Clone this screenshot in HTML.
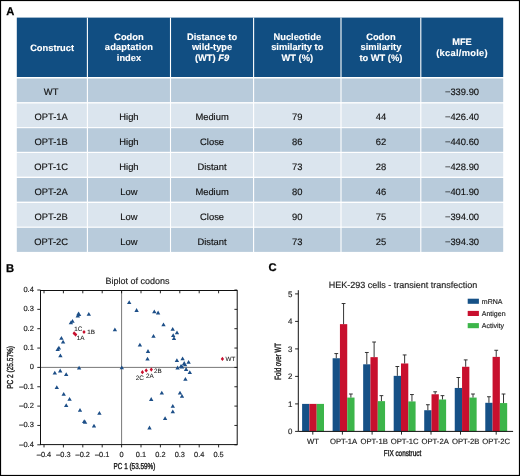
<!DOCTYPE html>
<html><head><meta charset="utf-8"><style>
html,body{margin:0;padding:0;background:#fff;width:520px;height:476px;overflow:hidden}
svg text{font-family:"Liberation Sans", sans-serif;text-rendering:geometricPrecision}
.c{fill:#1c1c1c;stroke:#1c1c1c;stroke-width:0.16}
.c2{stroke-width:0.4}
</style></head><body>
<svg width="520" height="476" viewBox="0 0 520 476" style="display:block;will-change:transform">
<rect x="0" y="0" width="520" height="476" fill="#fff"/>
<text x="6.3" y="14.6" font-size="11.2" font-weight="bold" fill="#000" stroke="#000" stroke-width="0.25">A</text>
<rect x="16.8" y="17.6" width="486.4" height="59.4" fill="#114e82"/>
<rect x="16.8" y="78.5" width="486.4" height="23.6" fill="#b8cbdb"/>
<rect x="16.8" y="103.5" width="486.4" height="23.6" fill="#dbe5ee"/>
<rect x="16.8" y="128.2" width="486.4" height="23.6" fill="#b8cbdb"/>
<rect x="16.8" y="153.0" width="486.4" height="23.6" fill="#dbe5ee"/>
<rect x="16.8" y="178.0" width="486.4" height="23.6" fill="#b8cbdb"/>
<rect x="16.8" y="203.0" width="486.4" height="23.6" fill="#dbe5ee"/>
<rect x="16.8" y="227.8" width="486.4" height="24.1" fill="#b8cbdb"/>
<rect x="86.85" y="17.6" width="1.1" height="234.4" fill="#fff"/>
<rect x="169.95" y="17.6" width="1.1" height="234.4" fill="#fff"/>
<rect x="253.05" y="17.6" width="1.1" height="234.4" fill="#fff"/>
<rect x="340.45" y="17.6" width="1.1" height="234.4" fill="#fff"/>
<rect x="420.25" y="17.6" width="1.1" height="234.4" fill="#fff"/>
<text x="52.10" y="50.70" font-size="9.3" font-weight="bold" fill="#fff" stroke="#fff" stroke-width="0.12" text-anchor="middle" >Construct</text>
<text x="128.95" y="39.50" font-size="9.3" font-weight="bold" fill="#fff" stroke="#fff" stroke-width="0.12" text-anchor="middle" >Codon</text>
<text x="128.95" y="50.40" font-size="9.3" font-weight="bold" fill="#fff" stroke="#fff" stroke-width="0.12" text-anchor="middle" letter-spacing="0.12">adaptation</text>
<text x="128.95" y="61.30" font-size="9.3" font-weight="bold" fill="#fff" stroke="#fff" stroke-width="0.12" text-anchor="middle" >index</text>
<text x="212.05" y="39.50" font-size="9.3" font-weight="bold" fill="#fff" stroke="#fff" stroke-width="0.12" text-anchor="middle" >Distance to</text>
<text x="212.05" y="50.40" font-size="9.3" font-weight="bold" fill="#fff" stroke="#fff" stroke-width="0.12" text-anchor="middle" >wild-type</text>
<text x="212.05" y="61.30" font-size="9.3" font-weight="bold" fill="#fff" stroke="#fff" stroke-width="0.12" text-anchor="middle" >(WT) <tspan font-style="italic">F9</tspan></text>
<text x="297.30" y="39.50" font-size="9.3" font-weight="bold" fill="#fff" stroke="#fff" stroke-width="0.12" text-anchor="middle" >Nucleotide</text>
<text x="297.30" y="50.40" font-size="9.3" font-weight="bold" fill="#fff" stroke="#fff" stroke-width="0.12" text-anchor="middle" >similarity to</text>
<text x="297.30" y="61.30" font-size="9.3" font-weight="bold" fill="#fff" stroke="#fff" stroke-width="0.12" text-anchor="middle" >WT (%)</text>
<text x="380.90" y="39.50" font-size="9.3" font-weight="bold" fill="#fff" stroke="#fff" stroke-width="0.12" text-anchor="middle" >Codon</text>
<text x="380.90" y="50.40" font-size="9.3" font-weight="bold" fill="#fff" stroke="#fff" stroke-width="0.12" text-anchor="middle" >similarity</text>
<text x="380.90" y="61.30" font-size="9.3" font-weight="bold" fill="#fff" stroke="#fff" stroke-width="0.12" text-anchor="middle" >to WT (%)</text>
<text x="462.00" y="44.90" font-size="9.3" font-weight="bold" fill="#fff" stroke="#fff" stroke-width="0.12" text-anchor="middle" >MFE</text>
<text x="462.00" y="55.80" font-size="9.3" font-weight="bold" fill="#fff" stroke="#fff" stroke-width="0.12" text-anchor="middle" letter-spacing="0.28">(kcal/mole)</text>
<text x="51.10" y="95.20" font-size="9.4" fill="#111" stroke="#111" stroke-width="0.15" text-anchor="middle" >WT</text>
<text x="462.00" y="95.20" font-size="9.4" fill="#111" stroke="#111" stroke-width="0.15" text-anchor="middle" >−339.90</text>
<text x="51.10" y="120.20" font-size="9.4" fill="#111" stroke="#111" stroke-width="0.15" text-anchor="middle" >OPT-1A</text>
<text x="128.95" y="120.20" font-size="9.4" fill="#111" stroke="#111" stroke-width="0.15" text-anchor="middle" >High</text>
<text x="212.05" y="120.20" font-size="9.4" fill="#111" stroke="#111" stroke-width="0.15" text-anchor="middle" >Medium</text>
<text x="297.30" y="120.20" font-size="9.4" fill="#111" stroke="#111" stroke-width="0.15" text-anchor="middle" >79</text>
<text x="380.90" y="120.20" font-size="9.4" fill="#111" stroke="#111" stroke-width="0.15" text-anchor="middle" >44</text>
<text x="462.00" y="120.20" font-size="9.4" fill="#111" stroke="#111" stroke-width="0.15" text-anchor="middle" >−426.40</text>
<text x="51.10" y="144.90" font-size="9.4" fill="#111" stroke="#111" stroke-width="0.15" text-anchor="middle" >OPT-1B</text>
<text x="128.95" y="144.90" font-size="9.4" fill="#111" stroke="#111" stroke-width="0.15" text-anchor="middle" >High</text>
<text x="212.05" y="144.90" font-size="9.4" fill="#111" stroke="#111" stroke-width="0.15" text-anchor="middle" >Close</text>
<text x="297.30" y="144.90" font-size="9.4" fill="#111" stroke="#111" stroke-width="0.15" text-anchor="middle" >86</text>
<text x="380.90" y="144.90" font-size="9.4" fill="#111" stroke="#111" stroke-width="0.15" text-anchor="middle" >62</text>
<text x="462.00" y="144.90" font-size="9.4" fill="#111" stroke="#111" stroke-width="0.15" text-anchor="middle" >−440.60</text>
<text x="51.10" y="169.70" font-size="9.4" fill="#111" stroke="#111" stroke-width="0.15" text-anchor="middle" >OPT-1C</text>
<text x="128.95" y="169.70" font-size="9.4" fill="#111" stroke="#111" stroke-width="0.15" text-anchor="middle" >High</text>
<text x="212.05" y="169.70" font-size="9.4" fill="#111" stroke="#111" stroke-width="0.15" text-anchor="middle" >Distant</text>
<text x="297.30" y="169.70" font-size="9.4" fill="#111" stroke="#111" stroke-width="0.15" text-anchor="middle" >73</text>
<text x="380.90" y="169.70" font-size="9.4" fill="#111" stroke="#111" stroke-width="0.15" text-anchor="middle" >28</text>
<text x="462.00" y="169.70" font-size="9.4" fill="#111" stroke="#111" stroke-width="0.15" text-anchor="middle" >−428.90</text>
<text x="51.10" y="194.70" font-size="9.4" fill="#111" stroke="#111" stroke-width="0.15" text-anchor="middle" >OPT-2A</text>
<text x="128.95" y="194.70" font-size="9.4" fill="#111" stroke="#111" stroke-width="0.15" text-anchor="middle" >Low</text>
<text x="212.05" y="194.70" font-size="9.4" fill="#111" stroke="#111" stroke-width="0.15" text-anchor="middle" >Medium</text>
<text x="297.30" y="194.70" font-size="9.4" fill="#111" stroke="#111" stroke-width="0.15" text-anchor="middle" >80</text>
<text x="380.90" y="194.70" font-size="9.4" fill="#111" stroke="#111" stroke-width="0.15" text-anchor="middle" >46</text>
<text x="462.00" y="194.70" font-size="9.4" fill="#111" stroke="#111" stroke-width="0.15" text-anchor="middle" >−401.90</text>
<text x="51.10" y="219.70" font-size="9.4" fill="#111" stroke="#111" stroke-width="0.15" text-anchor="middle" >OPT-2B</text>
<text x="128.95" y="219.70" font-size="9.4" fill="#111" stroke="#111" stroke-width="0.15" text-anchor="middle" >Low</text>
<text x="212.05" y="219.70" font-size="9.4" fill="#111" stroke="#111" stroke-width="0.15" text-anchor="middle" >Close</text>
<text x="297.30" y="219.70" font-size="9.4" fill="#111" stroke="#111" stroke-width="0.15" text-anchor="middle" >90</text>
<text x="380.90" y="219.70" font-size="9.4" fill="#111" stroke="#111" stroke-width="0.15" text-anchor="middle" >75</text>
<text x="462.00" y="219.70" font-size="9.4" fill="#111" stroke="#111" stroke-width="0.15" text-anchor="middle" >−394.00</text>
<text x="51.10" y="244.50" font-size="9.4" fill="#111" stroke="#111" stroke-width="0.15" text-anchor="middle" >OPT-2C</text>
<text x="128.95" y="244.50" font-size="9.4" fill="#111" stroke="#111" stroke-width="0.15" text-anchor="middle" >Low</text>
<text x="212.05" y="244.50" font-size="9.4" fill="#111" stroke="#111" stroke-width="0.15" text-anchor="middle" >Distant</text>
<text x="297.30" y="244.50" font-size="9.4" fill="#111" stroke="#111" stroke-width="0.15" text-anchor="middle" >73</text>
<text x="380.90" y="244.50" font-size="9.4" fill="#111" stroke="#111" stroke-width="0.15" text-anchor="middle" >25</text>
<text x="462.00" y="244.50" font-size="9.4" fill="#111" stroke="#111" stroke-width="0.15" text-anchor="middle" >−394.30</text>
<text x="6.0" y="271.5" font-size="11.2" font-weight="bold" fill="#000" stroke="#000" stroke-width="0.25">B</text>
<text x="105.4" y="284.1" font-size="9" class="c">Biplot of codons</text>
<line x1="40.5" y1="367.4" x2="237.2" y2="367.4" stroke="#555" stroke-width="0.8"/>
<line x1="121.6" y1="290.5" x2="121.6" y2="444.6" stroke="#555" stroke-width="0.8"/>
<rect x="40.5" y="290.5" width="196.7" height="154.10000000000002" fill="none" stroke="#111" stroke-width="1"/>
<path d="M44.00,290.5v2.8 M44.00,444.6v2.8 M63.40,290.5v2.8 M63.40,444.6v2.8 M82.80,290.5v2.8 M82.80,444.6v2.8 M102.20,290.5v2.8 M102.20,444.6v2.8 M121.60,290.5v2.8 M121.60,444.6v2.8 M141.00,290.5v2.8 M141.00,444.6v2.8 M160.40,290.5v2.8 M160.40,444.6v2.8 M179.80,290.5v2.8 M179.80,444.6v2.8 M199.20,290.5v2.8 M199.20,444.6v2.8 M218.60,290.5v2.8 M218.60,444.6v2.8 M40.5,444.80h-3.2 M237.2,444.80h-2.8 M40.5,425.45h-3.2 M237.2,425.45h-2.8 M40.5,406.10h-3.2 M237.2,406.10h-2.8 M40.5,386.75h-3.2 M237.2,386.75h-2.8 M40.5,367.40h-3.2 M237.2,367.40h-2.8 M40.5,348.05h-3.2 M237.2,348.05h-2.8 M40.5,328.70h-3.2 M237.2,328.70h-2.8 M40.5,309.35h-3.2 M237.2,309.35h-2.8 M40.5,290.00h-3.2 M237.2,290.00h-2.8" stroke="#111" stroke-width="0.9" fill="none"/>
<text x="33.9" y="446.60" font-size="7.5" class="c" text-anchor="end">–0.4</text>
<text x="33.9" y="427.25" font-size="7.5" class="c" text-anchor="end">–0.3</text>
<text x="33.9" y="407.90" font-size="7.5" class="c" text-anchor="end">–0.2</text>
<text x="33.9" y="388.55" font-size="7.5" class="c" text-anchor="end">–0.1</text>
<text x="33.9" y="369.20" font-size="7.5" class="c" text-anchor="end">0</text>
<text x="33.9" y="349.85" font-size="7.5" class="c" text-anchor="end">0.1</text>
<text x="33.9" y="330.50" font-size="7.5" class="c" text-anchor="end">0.2</text>
<text x="33.9" y="311.15" font-size="7.5" class="c" text-anchor="end">0.3</text>
<text x="33.9" y="291.80" font-size="7.5" class="c" text-anchor="end">0.4</text>
<text x="44.00" y="456.6" font-size="7.4" class="c" text-anchor="middle">–0.4</text>
<text x="63.40" y="456.6" font-size="7.4" class="c" text-anchor="middle">–0.3</text>
<text x="82.80" y="456.6" font-size="7.4" class="c" text-anchor="middle">–0.2</text>
<text x="102.20" y="456.6" font-size="7.4" class="c" text-anchor="middle">–0.1</text>
<text x="121.60" y="456.6" font-size="7.4" class="c" text-anchor="middle">0</text>
<text x="141.00" y="456.6" font-size="7.4" class="c" text-anchor="middle">0.1</text>
<text x="160.40" y="456.6" font-size="7.4" class="c" text-anchor="middle">0.2</text>
<text x="179.80" y="456.6" font-size="7.4" class="c" text-anchor="middle">0.3</text>
<text x="199.20" y="456.6" font-size="7.4" class="c" text-anchor="middle">0.4</text>
<text x="218.60" y="456.6" font-size="7.4" class="c" text-anchor="middle">0.5</text>
<text transform="translate(134.45,468.7) scale(0.743,1)" font-size="8.6" class="c c2" text-anchor="middle">PC 1 (53.59%)</text>
<text transform="translate(13.4,367.4) rotate(-90) scale(0.759,1)" font-size="8.6" class="c c2" text-anchor="middle">PC 2 (25.57%)</text>
<path d="M77.8,313.60l2.2,3.8h-4.4z M79.1,312.30l2.2,3.8h-4.4z M78.5,311.40l2.2,3.8h-4.4z M88.8,312.00l2.2,3.8h-4.4z M70.9,320.50l2.2,3.8h-4.4z M72.5,319.00l2.2,3.8h-4.4z M61.4,336.00l2.2,3.8h-4.4z M63.1,339.80l2.2,3.8h-4.4z M58.9,345.70l2.2,3.8h-4.4z M57.7,347.20l2.2,3.8h-4.4z M60.4,353.50l2.2,3.8h-4.4z M114.9,327.40l2.2,3.8h-4.4z M79.1,365.70l2.2,3.8h-4.4z M54.8,370.80l2.2,3.8h-4.4z M60.2,368.60l2.2,3.8h-4.4z M66.2,372.30l2.2,3.8h-4.4z M56.8,385.30l2.2,3.8h-4.4z M63.7,391.90l2.2,3.8h-4.4z M69.6,396.90l2.2,3.8h-4.4z M66.2,403.20l2.2,3.8h-4.4z M80.0,407.90l2.2,3.8h-4.4z M99.4,410.90l2.2,3.8h-4.4z M84.2,419.30l2.2,3.8h-4.4z M85.1,420.00l2.2,3.8h-4.4z M94.0,423.70l2.2,3.8h-4.4z M121.8,365.50l2.2,3.8h-4.4z M129.2,300.20l2.2,3.8h-4.4z M136.6,308.10l2.2,3.8h-4.4z M154.3,309.40l2.2,3.8h-4.4z M158.1,310.60l2.2,3.8h-4.4z M163.5,322.50l2.2,3.8h-4.4z M172.7,327.00l2.2,3.8h-4.4z M177.0,330.40l2.2,3.8h-4.4z M173.2,333.30l2.2,3.8h-4.4z M174.0,336.20l2.2,3.8h-4.4z M153.5,334.00l2.2,3.8h-4.4z M139.9,342.80l2.2,3.8h-4.4z M148.0,349.10l2.2,3.8h-4.4z M147.5,356.70l2.2,3.8h-4.4z M176.9,358.30l2.2,3.8h-4.4z M182.6,356.40l2.2,3.8h-4.4z M188.6,359.90l2.2,3.8h-4.4z M184.2,361.10l2.2,3.8h-4.4z M185.1,362.40l2.2,3.8h-4.4z M182.0,364.60l2.2,3.8h-4.4z M177.6,365.60l2.2,3.8h-4.4z M186.1,367.10l2.2,3.8h-4.4z M189.8,370.30l2.2,3.8h-4.4z M185.4,376.90l2.2,3.8h-4.4z M181.0,364.00l2.2,3.8h-4.4z M161.8,390.80l2.2,3.8h-4.4z M180.0,390.80l2.2,3.8h-4.4z M182.0,394.00l2.2,3.8h-4.4z M151.2,397.10l2.2,3.8h-4.4z M172.8,404.00l2.2,3.8h-4.4z M172.8,409.40l2.2,3.8h-4.4z M165.1,416.30l2.2,3.8h-4.4z M149.5,425.60l2.2,3.8h-4.4z" fill="#1d4f88"/>
<path d="M74.2,331.2l1.65,2.1l-1.65,2.1l-1.65,-2.1z M75.6,332.5l1.65,2.1l-1.65,2.1l-1.65,-2.1z M84,329.9l1.65,2.1l-1.65,2.1l-1.65,-2.1z M142.4,370.09999999999997l1.65,2.1l-1.65,2.1l-1.65,-2.1z M146.2,368.29999999999995l1.65,2.1l-1.65,2.1l-1.65,-2.1z M151.3,367.5l1.65,2.1l-1.65,2.1l-1.65,-2.1z M222.4,356.79999999999995l1.65,2.1l-1.65,2.1l-1.65,-2.1z" fill="#c8102e"/>
<text x="74.3" y="330.8" font-size="6.3" fill="#1a1a1a" stroke="#1a1a1a" stroke-width="0.08">1C</text>
<text x="87.3" y="334.3" font-size="6.3" fill="#1a1a1a" stroke="#1a1a1a" stroke-width="0.08">1B</text>
<text x="76.8" y="340.1" font-size="6.3" fill="#1a1a1a" stroke="#1a1a1a" stroke-width="0.08">1A</text>
<text x="154.0" y="373.4" font-size="6.3" fill="#1a1a1a" stroke="#1a1a1a" stroke-width="0.08">2B</text>
<text x="146.1" y="377.8" font-size="6.3" fill="#1a1a1a" stroke="#1a1a1a" stroke-width="0.08">2A</text>
<text x="135.8" y="379.7" font-size="6.3" fill="#1a1a1a" stroke="#1a1a1a" stroke-width="0.08">2C</text>
<text x="225.6" y="361.4" font-size="6.3" fill="#1a1a1a" stroke="#1a1a1a" stroke-width="0.08">WT</text>
<text x="268.4" y="271.0" font-size="11.2" font-weight="bold" fill="#000" stroke="#000" stroke-width="0.25">C</text>
<text x="328.8" y="287.7" font-size="9" class="c">HEK-293 cells - transient transfection</text>
<rect x="302.10" y="403.90" width="7.3" height="27.50" fill="#165187"/>
<rect x="309.40" y="403.90" width="7.3" height="27.50" fill="#c8102e"/>
<rect x="316.70" y="403.90" width="7.3" height="27.50" fill="#3cb54a"/>
<text x="313.05" y="444.30" font-size="7.7" fill="#1c1c1c" stroke="#1c1c1c" stroke-width="0.16" text-anchor="middle" >WT</text>
<rect x="332.63" y="358.25" width="7.3" height="73.15" fill="#165187"/>
<rect x="339.93" y="324.15" width="7.3" height="107.25" fill="#c8102e"/>
<rect x="347.23" y="397.57" width="7.3" height="33.82" fill="#3cb54a"/>
<text x="343.58" y="444.30" font-size="7.7" fill="#1c1c1c" stroke="#1c1c1c" stroke-width="0.16" text-anchor="middle" >OPT-1A</text>
<rect x="363.16" y="364.30" width="7.3" height="67.10" fill="#165187"/>
<rect x="370.46" y="357.15" width="7.3" height="74.25" fill="#c8102e"/>
<rect x="377.76" y="401.15" width="7.3" height="30.25" fill="#3cb54a"/>
<text x="374.11" y="444.30" font-size="7.7" fill="#1c1c1c" stroke="#1c1c1c" stroke-width="0.16" text-anchor="middle" >OPT-1B</text>
<rect x="393.69" y="375.85" width="7.3" height="55.55" fill="#165187"/>
<rect x="400.99" y="363.47" width="7.3" height="67.93" fill="#c8102e"/>
<rect x="408.29" y="401.42" width="7.3" height="29.98" fill="#3cb54a"/>
<text x="404.64" y="444.30" font-size="7.7" fill="#1c1c1c" stroke="#1c1c1c" stroke-width="0.16" text-anchor="middle" >OPT-1C</text>
<rect x="424.22" y="410.22" width="7.3" height="21.18" fill="#165187"/>
<rect x="431.52" y="394.27" width="7.3" height="37.12" fill="#c8102e"/>
<rect x="438.82" y="399.50" width="7.3" height="31.90" fill="#3cb54a"/>
<text x="435.17" y="444.30" font-size="7.7" fill="#1c1c1c" stroke="#1c1c1c" stroke-width="0.16" text-anchor="middle" >OPT-2A</text>
<rect x="454.75" y="387.95" width="7.3" height="43.45" fill="#165187"/>
<rect x="462.05" y="366.77" width="7.3" height="64.62" fill="#c8102e"/>
<rect x="469.35" y="397.57" width="7.3" height="33.82" fill="#3cb54a"/>
<text x="465.70" y="444.30" font-size="7.7" fill="#1c1c1c" stroke="#1c1c1c" stroke-width="0.16" text-anchor="middle" >OPT-2B</text>
<rect x="485.28" y="402.80" width="7.3" height="28.60" fill="#165187"/>
<rect x="492.58" y="356.88" width="7.3" height="74.52" fill="#c8102e"/>
<rect x="499.88" y="403.07" width="7.3" height="28.32" fill="#3cb54a"/>
<text x="496.23" y="444.30" font-size="7.7" fill="#1c1c1c" stroke="#1c1c1c" stroke-width="0.16" text-anchor="middle" >OPT-2C</text>
<path d="M336.28,358.25V353.57M334.38,353.57h3.8 M343.58,324.15V303.52M341.68,303.52h3.8 M350.88,397.57V394.00M348.98,394.00h3.8 M366.81,364.30V352.47M364.91,352.47h3.8 M374.11,357.15V342.02M372.21,342.02h3.8 M381.41,401.15V395.65M379.51,395.65h3.8 M397.34,375.85V366.50M395.44,366.50h3.8 M404.64,363.47V354.95M402.74,354.95h3.8 M411.94,401.42V394.55M410.04,394.55h3.8 M427.87,410.22V404.72M425.97,404.72h3.8 M435.17,394.27V391.80M433.27,391.80h3.8 M442.47,399.50V395.65M440.57,395.65h3.8 M458.40,387.95V377.50M456.50,377.50h3.8 M465.70,366.77V359.90M463.80,359.90h3.8 M473.00,397.57V394.00M471.10,394.00h3.8 M488.93,402.80V396.75M487.03,396.75h3.8 M496.23,356.88V350.27M494.33,350.27h3.8 M503.53,403.07V394.00M501.63,394.00h3.8" stroke="#2a2a2a" stroke-width="0.95" fill="none"/>
<path d="M298.3,290.2V431.4H513.1" stroke="#111" stroke-width="1" fill="none"/>
<path d="M298.3,431.40h-3.2 M298.3,403.90h-3.2 M298.3,376.40h-3.2 M298.3,348.90h-3.2 M298.3,321.40h-3.2 M298.3,293.90h-3.2 M312.8,431.4v3.2 M342.4,431.4v3.2 M372.1,431.4v3.2 M401.5,431.4v3.2 M431.0,431.4v3.2 M460.5,431.4v3.2 M496.2,431.4v3.2" stroke="#111" stroke-width="0.9" fill="none"/>
<text x="292.3" y="434.25" font-size="7.9" class="c" text-anchor="end">0</text>
<text x="292.3" y="406.75" font-size="7.9" class="c" text-anchor="end">1</text>
<text x="292.3" y="379.25" font-size="7.9" class="c" text-anchor="end">2</text>
<text x="292.3" y="351.75" font-size="7.9" class="c" text-anchor="end">3</text>
<text x="292.3" y="324.25" font-size="7.9" class="c" text-anchor="end">4</text>
<text x="292.3" y="296.75" font-size="7.9" class="c" text-anchor="end">5</text>
<text transform="translate(281.4,361.4) rotate(-90) scale(0.68,1)" font-size="9" class="c c2" text-anchor="middle">Fold over WT</text>
<text transform="translate(402.5,456.4) scale(0.738,1)" font-size="8.6" class="c c2" text-anchor="middle">FIX construct</text>
<rect x="467.7" y="298.70" width="11.2" height="5.1" fill="#165187"/>
<text x="481.8" y="303.60" font-size="7" class="c">mRNA</text>
<rect x="467.7" y="310.90" width="11.2" height="5.1" fill="#c8102e"/>
<text x="481.8" y="315.80" font-size="7" class="c">Antigen</text>
<rect x="467.7" y="323.10" width="11.2" height="5.1" fill="#3cb54a"/>
<text x="481.8" y="328.00" font-size="7" class="c">Activity</text>
<rect x="0.5" y="0.5" width="519" height="475" fill="none" stroke="#000" stroke-width="1.2"/>
</svg>
</body></html>
